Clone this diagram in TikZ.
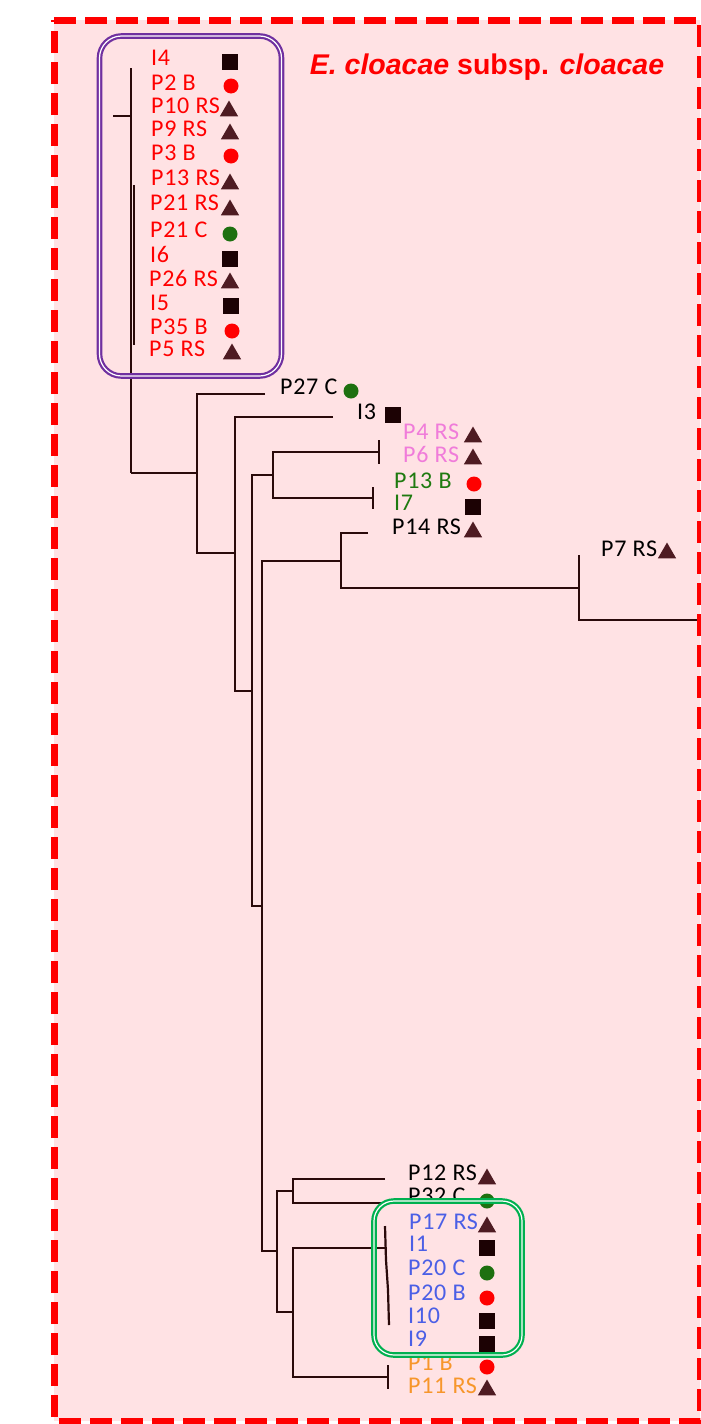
\documentclass[tikz,border=0pt]{standalone}
\usepackage{fontspec}
\setmainfont{Carlito}
\newfontfamily\titlefont{Liberation Sans}
\usepackage{tikz}
\usetikzlibrary{shapes.geometric}

\definecolor{bgpink}{HTML}{FFE2E4}
\definecolor{framered}{HTML}{FF0000}
\definecolor{purplebox}{HTML}{7030A0}
\definecolor{greenbox}{HTML}{00B050}
\definecolor{treeline}{HTML}{2A0A0A}
\definecolor{labblue}{HTML}{4B5FE6}
\definecolor{labpink}{HTML}{F07CDA}
\definecolor{labgreen}{HTML}{1F7A10}
\definecolor{laborange}{HTML}{F7962B}
\definecolor{symdark}{HTML}{1C0204}
\definecolor{trimaroon}{HTML}{4E1B22}
\definecolor{circgreen}{HTML}{1E7010}

\begin{document}
\begin{tikzpicture}[x=1pt, y=-1pt,
    lab/.style={anchor=west, inner sep=0pt, font=\addfontfeatures{LetterSpace=3}\fontsize{24}{27}\selectfont},
    symsq/.style={fill=symdark, minimum size=16pt, inner sep=0pt},
    symtri/.style={regular polygon, regular polygon sides=3, fill=trimaroon, minimum size=21pt, inner sep=0pt},
    symred/.style={circle, fill=red, minimum size=15pt, inner sep=0pt},
    symgreen/.style={circle, fill=circgreen, minimum size=15pt, inner sep=0pt},
    branch/.style={draw=treeline, line width=2.2pt}]
        \useasboundingbox (0,0) rectangle (701,1424);

        % Background of the framed panel
        \fill[bgpink] (54,20) rectangle (700,1421);

        % Define coordinates (tips and inner nodes)
        \coordinate (cPurple) at (131,473);
        \coordinate (cGreen) at (387,1248);
        \coordinate (tP27) at (265,394);
        \coordinate (tI3) at (333,417);
        \coordinate (tP4P6) at (379,452);
        \coordinate (tP13I7) at (373,498);
        \coordinate (tP14) at (368,533);
        \coordinate (tP7) at (579,555);
        \coordinate (tOut) at (701,620);
        \coordinate (tP12) at (385,1179);
        \coordinate (tP32) at (385,1203);
        \coordinate (tP1P11) at (388,1377);
        \coordinate (nA) at (197,473);
        \coordinate (nB) at (235,553);
        \coordinate (nC) at (252,691);
        \coordinate (nD) at (273,475);
        \coordinate (nE) at (262,906);
        \coordinate (nF) at (341,561);
        \coordinate (nG) at (579,588);
        \coordinate (nH) at (277,1251);
        \coordinate (nI) at (293,1191);
        \coordinate (nJ) at (293,1312);

        % Draw the purple clade (comb)
        \draw[branch] (131,68) -- (cPurple);
        \draw[branch] (113,116) -- (131,116);
        \draw[branch] (134,185) -- (134,345);
        \draw[branch] (cPurple) -- (nA);

        % Draw branches of the tree
        \draw[branch] (tP27) -| (nA) |- (nB);
        \draw[branch] (tI3) -| (nB) |- (nC);
        \draw[branch] (nD) -| (nC) |- (nE);
        \draw[branch] (tP4P6) -| (nD) |- (tP13I7);
        \draw[branch] (tP4P6) ++(0,-12) -- ++(0,24);
        \draw[branch] (tP13I7) ++(0,-11) -- ++(0,22);
        \draw[branch] (nF) -| (nE) |- (nH);
        \draw[branch] (tP14) -| (nF) |- (nG);
        \draw[branch] (tP7) -- (nG) |- (tOut);
        \draw[branch] (nI) -| (nH) |- (nJ);
        \draw[branch] (tP12) -| (nI) |- (tP32);
        \draw[branch] (cGreen) -| (nJ) |- (tP1P11);
        \draw[branch] (tP1P11) ++(0,-12) -- ++(0,24);

        % Draw the green clade (comb)
        \draw[branch] (385,1226) -- (386,1260) -- (388,1290) -- (389,1325);

        % Labels of the purple clade
        \node[lab, text=red] (lI4) at (151,58) {I4};        \node[symsq] (sI4) at (230,62) {};
        \node[lab, text=red] (lP2) at (151,83) {P2 B};      \node[symred] (sP2) at (231,86) {};
        \node[lab, text=red] (lP10) at (151,106) {P10 RS};  \node[symtri] (sP10) at (229,111) {};
        \node[lab, text=red] (lP9) at (151,129) {P9 RS};    \node[symtri] (sP9) at (230,134) {};
        \node[lab, text=red] (lP3) at (151,153) {P3 B};     \node[symred] (sP3) at (231,156) {};
        \node[lab, text=red] (lP13) at (151,178) {P13 RS};  \node[symtri] (sP13) at (230,184) {};
        \node[lab, text=red] (lP21a) at (150,203) {P21 RS}; \node[symtri] (sP21a) at (230,210) {};
        \node[lab, text=red] (lP21b) at (150,230) {P21 C};  \node[symgreen] (sP21b) at (230,234) {};
        \node[lab, text=red] (lI6) at (150,254) {I6};       \node[symsq] (sI6) at (230,259) {};
        \node[lab, text=red] (lP26) at (149,278) {P26 RS};  \node[symtri] (sP26) at (230,283) {};
        \node[lab, text=red] (lI5) at (150,303) {I5};       \node[symsq] (sI5) at (231,306) {};
        \node[lab, text=red] (lP35) at (150,327) {P35 B};   \node[symred] (sP35) at (232,331) {};
        \node[lab, text=red] (lP5) at (149,349) {P5 RS};    \node[symtri] (sP5) at (232,354) {};

        % Labels of the middle part
        \node[lab] (lP27) at (280,387) {P27 C};             \node[symgreen] (sP27) at (351,391) {};
        \node[lab] (lI3) at (357,412) {I3};                 \node[symsq] (sI3) at (393,415) {};
        \node[lab, text=labpink] (lP4) at (403,432) {P4 RS};    \node[symtri] (sP4) at (473,437) {};
        \node[lab, text=labpink] (lP6) at (403,454) {P6 RS};    \node[symtri] (sP6) at (473,459) {};
        \node[lab, text=labgreen] (lP13B) at (394,481) {P13 B}; \node[symred] (sP13B) at (474,484) {};
        \node[lab, text=labgreen] (lI7) at (394,503) {I7};      \node[symsq] (sI7) at (473,507) {};
        \node[lab] (lP14) at (392,527) {P14 RS};            \node[symtri] (sP14) at (473,532) {};
        \node[lab] (lP7) at (601,549) {P7 RS};              \node[symtri] (sP7) at (667,553) {};

        % Labels of the lower part
        \node[lab] (lP12) at (408,1173) {P12 RS};              \node[symtri] (sP12) at (487,1179) {};
        \node[lab] (lP32) at (408,1196) {P32 C};               \node[symgreen] (sP32) at (487,1201) {};
        \node[lab, text=labblue] (lP17) at (409,1222) {P17 RS};    \node[symtri] (sP17) at (487,1227) {};
        \node[lab, text=labblue] (lI1) at (409,1244) {I1};         \node[symsq] (sI1) at (487,1248) {};
        \node[lab, text=labblue] (lP20C) at (408,1268) {P20 C};    \node[symgreen] (sP20C) at (487,1273) {};
        \node[lab, text=labblue] (lP20B) at (408,1293) {P20 B};    \node[symred] (sP20B) at (487,1298) {};
        \node[lab, text=labblue] (lI10) at (408,1316) {I10};       \node[symsq] (sI10) at (487,1321) {};
        \node[lab, text=labblue] (lI9) at (408,1339) {I9};         \node[symsq] (sI9) at (487,1344) {};
        \node[lab, text=laborange] (lP1) at (408,1363) {P1 B};     \node[symred] (sP1) at (487,1367) {};
        \node[lab, text=laborange] (lP11) at (408,1386) {P11 RS};  \node[symtri] (sP11) at (487,1390) {};

        % Title
        \node[anchor=base, inner sep=0pt, text=red, font=\titlefont\bfseries\fontsize{28.5}{32}\selectfont] (title) at (487,74) {\textit{E. cloacae} subsp. \textit{cloacae}};

        % Draw the rounded boxes round the two clades
        \draw[purplebox, line width=2.2pt, double=white, double distance=1.2pt, rounded corners=22pt] (99.5,36) rectangle (281.5,376);
        \draw[greenbox, line width=2.2pt, double=white, double distance=1.2pt, rounded corners=20pt] (374,1201) rectangle (522,1355);

        % Draw the dashed frame
        \draw[framered, line width=7pt, dash pattern=on 22pt off 9pt] (54,20) -- (700,20) -- (700,1421) -- (54,1421) -- cycle;
      \end{tikzpicture}
\end{document}
